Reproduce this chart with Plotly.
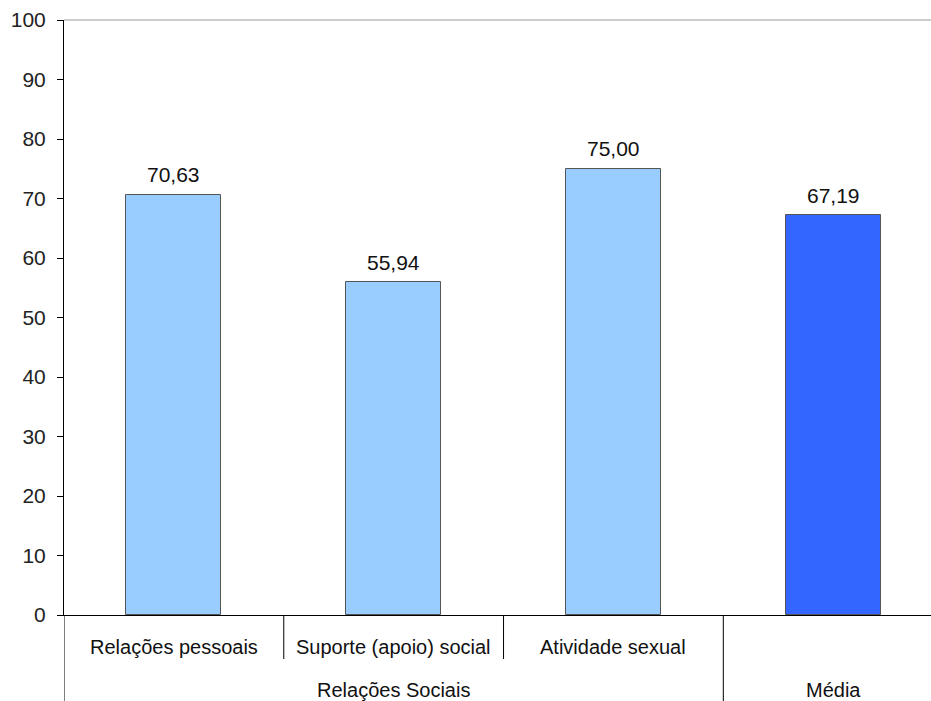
import plotly.graph_objects as go

categories = ["Relações pessoais", "Suporte (apoio) social", "Atividade sexual", "Média"]
inner_labels = ["Relações pessoais", "Suporte (apoio) social", "Atividade sexual", ""]
groups = ["Relações Sociais", "Média"]
group_members = [[0, 1, 2], [3]]
values = [70.63, 55.94, 75.00, 67.19]
bar_colors = ["#99CCFF", "#99CCFF", "#99CCFF", "#3366FF"]
y_ticks = list(range(0, 101, 10))

FONT = "Liberation Sans, Arial, sans-serif"

fig = go.Figure(go.Bar(
    x=categories, y=values,
    marker=dict(color=bar_colors, line=dict(color="#555555", width=1)),
    width=0.432,
    cliponaxis=False,
))

shapes = []
annotations = []
bottom = -86 / 595
inner_bottom = -44 / 595
shapes.append(dict(type="line", xref="x", yref="paper", x0=-0.5, x1=-0.5, y0=0, y1=bottom,
                   line=dict(color="#000000", width=1)))
for i in range(len(categories) - 1):
    is_group_edge = any(i == m[-1] for m in group_members)
    shapes.append(dict(type="line", xref="x", yref="paper", x0=i + 0.5, x1=i + 0.5,
                       y0=0, y1=bottom if is_group_edge else inner_bottom,
                       line=dict(color="#000000", width=1)))
shapes.append(dict(type="line", xref="paper", yref="paper", x0=0, x1=1, y0=1, y1=1,
                   line=dict(color="#999999", width=1)))

for c, v in zip(categories, values):
    annotations.append(dict(x=c, y=v, xref="x", yref="y", text=f"{v:.2f}".replace(".", ","),
                            showarrow=False, yanchor="middle", yshift=20,
                            font=dict(family=FONT, size=21, color="#111111")))

for i, lab in enumerate(inner_labels):
    if lab:
        annotations.append(dict(x=categories[i], y=-32 / 595, xref="x", yref="paper",
                                text=lab, showarrow=False, yanchor="middle",
                                font=dict(family=FONT, size=20, color="#111111")))
for g, members in zip(groups, group_members):
    cx = (members[0] + members[-1]) / 2
    annotations.append(dict(x=cx, y=-75 / 595, xref="x", yref="paper",
                            text=g, showarrow=False, yanchor="middle",
                            font=dict(family=FONT, size=20, color="#111111")))

fig.update_layout(
    width=931, height=701,
    margin=dict(l=64, r=0, t=20, b=86, autoexpand=False),
    plot_bgcolor="white", paper_bgcolor="white",
    showlegend=False,
    bargap=0,
    shapes=shapes,
    annotations=annotations,
    xaxis=dict(type="category", range=[-0.5, 3.445], showticklabels=False, ticks="",
               showline=True, linecolor="#000000", linewidth=1, showgrid=False, zeroline=False),
    yaxis=dict(range=[0, 100], tickvals=y_ticks, ticks="outside", ticklen=6, tickcolor="#000000",
               showline=True, linecolor="#000000", linewidth=1, showgrid=False, zeroline=False,
               tickfont=dict(family=FONT, size=21, color="#222222"), ticklabelstandoff=7),
)

fig.write_html("out.html")
